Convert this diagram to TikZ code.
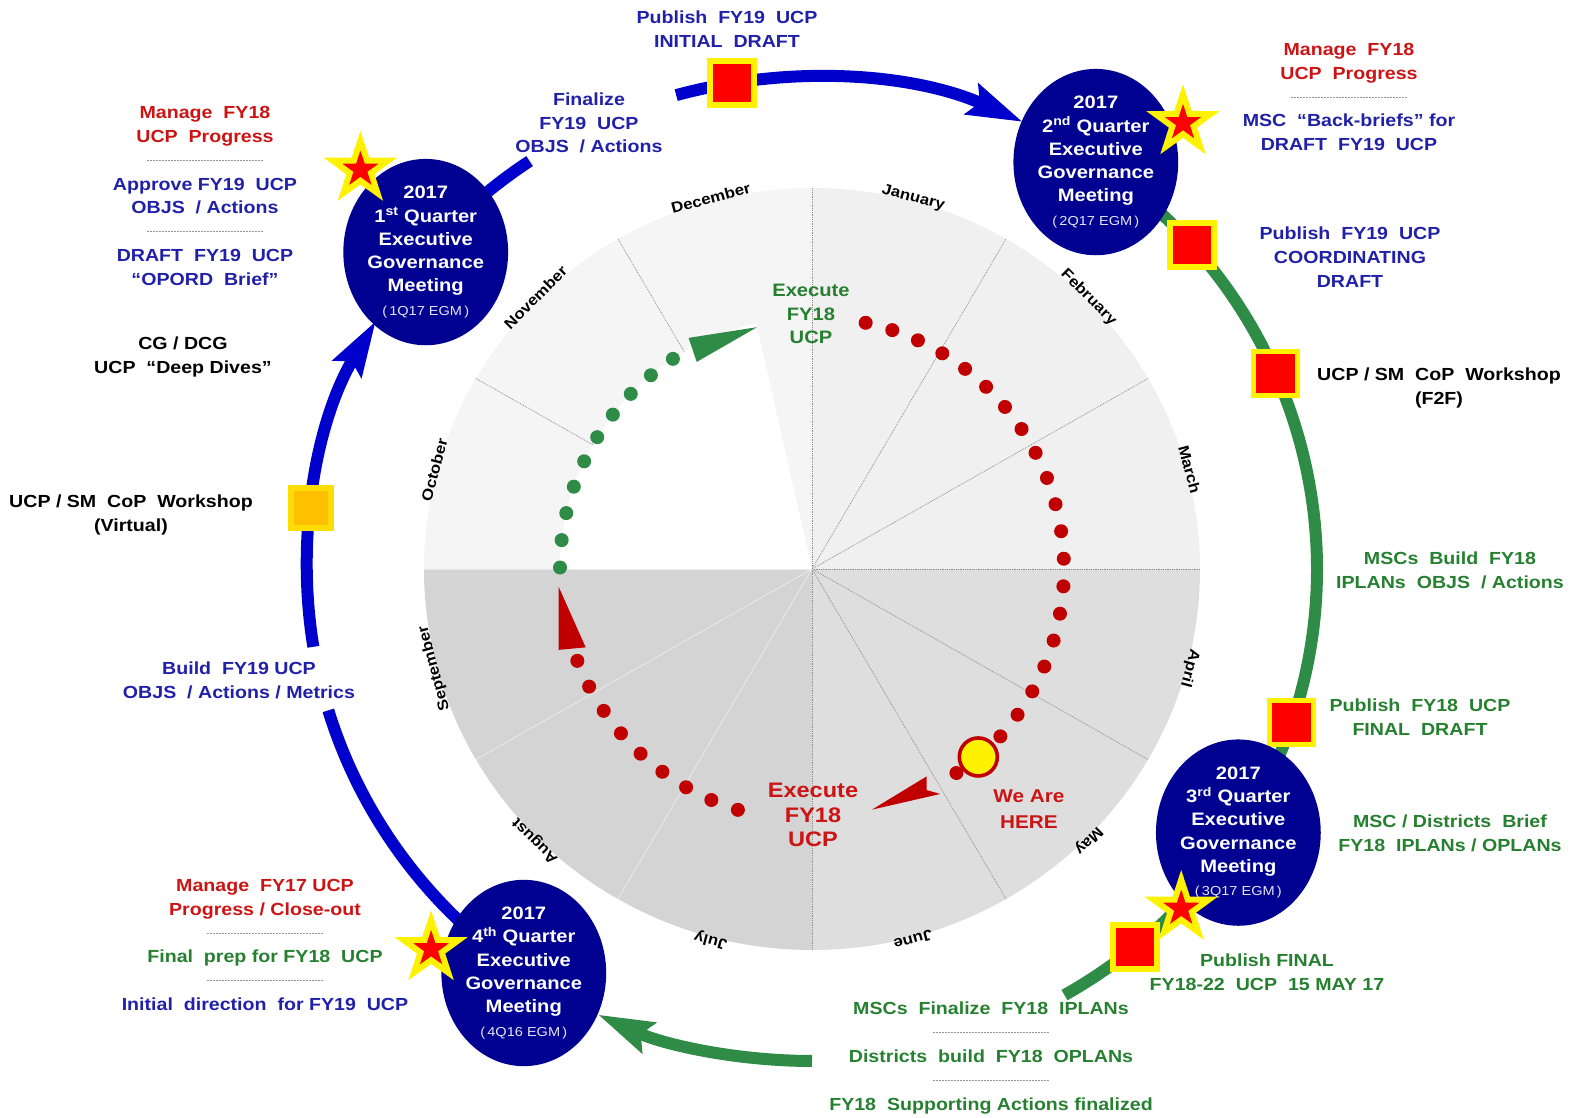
\documentclass[tikz,border=0pt]{standalone}
\usepackage{fontspec}
\setmainfont{Liberation Sans}[FakeStretch=1.12]
\usepackage{tikz}
\usetikzlibrary{arrows.meta,shapes.geometric,positioning}

\definecolor{egmnavy}{RGB}{0,0,145}
\definecolor{ringblue}{RGB}{0,0,205}
\definecolor{ringgreen}{RGB}{46,140,70}
\definecolor{txtblue}{RGB}{32,32,168}
\definecolor{txtred}{RGB}{204,20,20}
\definecolor{txtgreen}{RGB}{38,128,48}
\definecolor{dotred}{RGB}{192,0,0}
\definecolor{orng}{RGB}{255,192,0}

\newcommand{\dotsep}{\raisebox{5pt}{\color{black!85}\mdseries\fontsize{9.5}{9}\selectfont\leaders\hbox to 3pt{\hss.\hss}\hskip 117pt}}
\newcommand{\egmtag}[1]{{\mdseries\fontsize{13}{14}\selectfont\color{white!90!egmnavy}(\,#1\,)}}

\tikzset{
  meeting/.style={ellipse, fill=egmnavy, text=white, minimum width=163pt, minimum height=166pt, inner sep=0pt, align=center, font=\bfseries\fontsize{18}{23.3}\selectfont},
  milestone/.style={rectangle, fill=red, draw=yellow, line width=5.5pt, minimum size=44pt, inner sep=0pt},
  vmilestone/.style={milestone, fill=orng, draw=yellow!80!orange, minimum size=40pt},
  hot/.style={star, star points=5, star point ratio=2.6, fill=red, draw=yellow, line width=6pt, minimum size=58pt, inner sep=0pt},
  plan/.style={align=center, inner sep=0pt, font=\bfseries\fontsize{17.5}{23.8}\selectfont},
  month/.style={inner sep=0pt, font=\bfseries\fontsize{15}{15}\selectfont},
  ringpath/.style={x radius=505, y radius=492},
  ringb/.style={draw=ringblue, line width=12pt},
  ringg/.style={draw=ringgreen, line width=12pt},
  bighead/.style={-{Stealth[length=55pt,width=32pt,inset=8pt]}},
  divider/.style={black!45, densely dotted, line width=0.8pt},
  softdivider/.style={black!8, line width=0.8pt}
}

\begin{document}
\begin{tikzpicture}[x=1pt,y=1pt]
\useasboundingbox (-812,-549) rectangle (771,569);

\fill[black!6] (0,0) -- (0:388 and 381) arc[start angle=0,end angle=90,x radius=388,y radius=381] -- cycle;
\fill[black!4] (0,0) -- (90:388 and 381) arc[start angle=90,end angle=180,x radius=388,y radius=381] -- cycle;
\fill[black!17] (0,0) -- (180:388 and 381) arc[start angle=180,end angle=270,x radius=388,y radius=381] -- cycle;
\fill[black!13] (0,0) -- (270:388 and 381) arc[start angle=270,end angle=360,x radius=388,y radius=381] -- cycle;
\foreach \a in {-90,-60,...,150}
  \draw[divider] (0,0) -- (\a:388 and 381);
\foreach \a in {180,210,240}
  \draw[softdivider] (0,0) -- (\a:388 and 381);
\fill[white] (0,0) -- (102.8:252) arc[start angle=102.8,end angle=180,radius=252] -- cycle;

\foreach \m [count=\i] in {January,February,March,April,May,June,July,August,September,October,November,December}
  \node[month, rotate={75-30*(\i-1)-90}] (m\i) at ({75-30*(\i-1)}:391 and 384) {\m};

\foreach \i in {0,...,19}
  \fill[dotred] ({77.7-6.28*\i}:252) circle[radius=7];
\foreach \i in {0,...,8}
  \fill[dotred] ({-107.1-6.44*\i}:252) circle[radius=7];
\foreach \i in {0,...,9}
  \fill[ringgreen] ({123.5+6.24*\i}:252) circle[radius=7];
\fill[dotred] (-54.7:250) circle[radius=7];
\filldraw[fill=yellow, draw=dotred, line width=3.6pt] (-48.5:251) circle[radius=19];

\fill[ringgreen] (102.8:248) -- (118.1:262) -- (119.1:237) -- cycle;
\fill[dotred] (184:254) -- (197.7:266) -- (199.1:239.5) -- cycle;
\fill[dotred] (-76:248) -- (-60.3:259) -- (-62.6:249) -- (-61.1:237) -- cycle;

\node[plan, text=txtgreen, font=\bfseries\fontsize{18}{23.2}\selectfont] (exg) at (-1,255) {Execute\\FY18\\UCP};
\node[plan, text=txtred, font=\bfseries\fontsize{21}{24.6}\selectfont] (exr) at (1,-246) {Execute\\FY18\\UCP};
\node[plan, text=txtred, font=\bfseries\fontsize{18.5}{26}\selectfont] (here) at (217,-240) {We Are\\HERE};

\coordinate (c1) at (139.9:505 and 492);
\coordinate (c2) at (55.8:505 and 492);
\coordinate (c3) at (-32.4:505 and 492);
\coordinate (c4) at (235.2:505 and 492);
\coordinate (gl) at (189.1:505 and 492);
\coordinate (gt) at (105.6:505 and 492);
\coordinate (gb) at (-90:505 and 492);

\draw[ringb] (c4) arc[ringpath, start angle=235.2, end angle=196.7];
\draw[ringb, bighead] (gl) arc[ringpath, start angle=189.1, end angle=149.7];
\draw[ringb] (c1) arc[ringpath, start angle=139.9, end angle=124];
\draw[ringb, bighead] (gt) arc[ringpath, start angle=105.6, end angle=65.3];
\draw[ringg] (c2) arc[ringpath, start angle=55.8, end angle=-60];
\draw[ringg, bighead] (gb) arc[ringpath, start angle=-90, end angle=-115.1];

\node[milestone] (s1) at (99.1:505 and 492) {};
\node[milestone] (s2) at (41.2:505 and 492) {};
\node[milestone] (s3) at (23.4:505 and 492) {};
\node[milestone] (s4) at (-18.2:505 and 492) {};
\node[milestone] (s5) at (-50.2:505 and 492) {};
\node[vmilestone] (s0) at (172.9:505 and 492) {};

\node[meeting] (q1) at (c1) {2017\\1\textsuperscript{st} Quarter\\Executive\\Governance\\Meeting\\\egmtag{1Q17 EGM}};
\node[meeting] (q2) at (c2) {2017\\2\textsuperscript{nd} Quarter\\Executive\\Governance\\Meeting\\\egmtag{2Q17 EGM}};
\node[meeting] (q3) at (c3) {2017\\3\textsuperscript{rd} Quarter\\Executive\\Governance\\Meeting\\\egmtag{3Q17 EGM}};
\node[meeting] (q4) at (c4) {2017\\4\textsuperscript{th} Quarter\\Executive\\Governance\\Meeting\\\egmtag{4Q16 EGM}};

\node[hot] (h1) at (-451.6,399.4) {};
\node[hot] (h2) at (371,446) {};
\node[hot] (h3) at (369.2,-339.6) {};
\node[hot] (h4) at (-380.9,-380) {};

\node[plan, text=txtblue] (p1) at (-85,540) {Publish~ FY19~ UCP\\INITIAL~ DRAFT};
\node[plan, text=txtblue] (p2) at (-223,446) {Finalize\\FY19~ UCP\\OBJS~ / Actions};
\node[plan, text=txtblue] (p3) at (-607,373) {\textcolor{txtred}{Manage~ FY18}\\\textcolor{txtred}{UCP~ Progress}\\\dotsep\\Approve FY19~ UCP\\OBJS~ / Actions\\\dotsep\\DRAFT~ FY19~ UCP\\“OPORD~ Brief”};
\node[plan] (p4) at (-629,212) {CG / DCG\\UCP~ “Deep Dives”};
\node[plan] (p5) at (-681,54) {UCP / SM~ CoP~ Workshop\\(Virtual)};
\node[plan, text=txtblue] (p6) at (-573,-111) {Build~ FY19 UCP\\OBJS~ / Actions / Metrics};
\node[plan, text=txtblue] (p7) at (-547,-376) {\textcolor{txtred}{Manage~ FY17 UCP}\\\textcolor{txtred}{Progress / Close-out}\\\dotsep\\\textcolor{txtgreen}{Final~ prep for FY18~ UCP}\\\dotsep\\Initial~ direction~ for FY19~ UCP};
\node[plan, text=txtblue] (p8) at (537,472) {\textcolor{txtred}{Manage~ FY18}\\\textcolor{txtred}{UCP~ Progress}\\\dotsep\\MSC~ “Back-briefs” for\\DRAFT~ FY19~ UCP};
\node[plan, text=txtblue] (p9) at (538,312) {Publish~ FY19~ UCP\\COORDINATING\\DRAFT};
\node[plan] (p10) at (627,181) {UCP / SM~ CoP~ Workshop\\(F2F)};
\node[plan, text=txtgreen] (p11) at (638,-1) {MSCs~ Build~ FY18\\IPLANs~ OBJS~ / Actions};
\node[plan, text=txtgreen] (p12) at (608,-148) {Publish~ FY18~ UCP\\FINAL~ DRAFT};
\node[plan, text=txtgreen] (p13) at (638,-264) {MSC / Districts~ Brief\\FY18~ IPLANs / OPLANs};
\node[plan, text=txtgreen] (p14) at (455,-403) {Publish FINAL\\FY18-22~ UCP~ 15 MAY 17};
\node[plan, text=txtgreen] (p15) at (179,-489) {MSCs~ Finalize~ FY18~ IPLANs\\\dotsep\\Districts~ build~ FY18~ OPLANs\\\dotsep\\FY18~ Supporting Actions finalized};
\end{tikzpicture}
\end{document}
